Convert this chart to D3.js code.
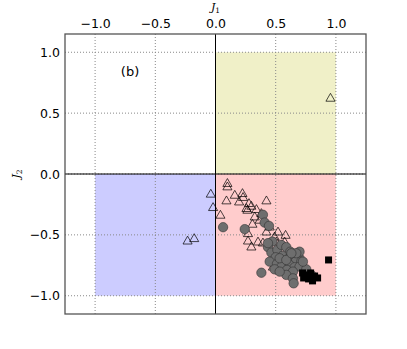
<!DOCTYPE html>
<html><head><meta charset="utf-8">
<script src="https://cdn.jsdelivr.net/npm/d3@7"></script>
<style>body{margin:0;background:#fff}svg{display:block}</style>
</head><body>
<svg id="c" width="407" height="349"></svg>
<script>
const xTicks = [-1.0, -0.5, 0.0, 0.5, 1.0];
const yTicks = [-1.0, -0.5, 0.0, 0.5, 1.0];
const regionsX0 = [0, -1, 0];
const regionsY0 = [0, -1, -1];
const regionsColor = ["#f0f0c8", "#ccccff", "#ffcccc"];
const triX = [0.099,0.099,-0.039,-0.020,0.160,0.224,0.091,0.196,0.229,0.278,0.298,0.257,0.265,0.340,0.423,0.041,0.381,0.326,0.367,0.307,0.450,0.423,0.519,0.582,0.270,0.491,0.270,0.353,0.298,0.574,0.505,0.547,0.477,-0.232,-0.177,0.955,0.394];
const triY = [-0.074,-0.102,-0.162,-0.272,-0.171,-0.157,-0.217,-0.226,-0.189,-0.239,-0.261,-0.280,-0.294,-0.288,-0.217,-0.335,-0.321,-0.349,-0.376,-0.409,-0.432,-0.473,-0.473,-0.500,-0.486,-0.514,-0.547,-0.555,-0.596,-0.555,-0.555,-0.582,-0.761,-0.547,-0.527,0.626,-0.563];
const cirX = [0.063,0.243,0.394,0.408,0.444,0.472,0.436,0.464,0.514,0.547,0.588,0.621,0.555,0.500,0.450,0.510,0.547,0.601,0.657,0.698,0.665,0.712,0.616,0.657,0.698,0.593,0.643,0.588,0.643,0.649,0.381,0.491,0.533,0.698,0.754,0.795,0.671,0.726,0.436,0.533,0.588,0.630];
const cirY = [-0.437,-0.453,-0.335,-0.399,-0.426,-0.555,-0.601,-0.646,-0.624,-0.582,-0.601,-0.638,-0.673,-0.684,-0.720,-0.739,-0.761,-0.700,-0.665,-0.692,-0.720,-0.720,-0.747,-0.766,-0.761,-0.788,-0.802,-0.829,-0.857,-0.898,-0.811,-0.783,-0.802,-0.638,-0.783,-0.829,-0.651,-0.720,-0.568,-0.692,-0.706,-0.651];
const sqX = [0.723,0.756,0.790,0.823,0.848,0.773,0.806,0.732,0.798,0.939];
const sqY = [-0.813,-0.829,-0.813,-0.838,-0.854,-0.862,-0.878,-0.854,-0.846,-0.706];

const svg = d3.select("#c");
const L=65, R=366, T=34, B=314;
const x = d3.scaleLinear().domain([-1.25,1.25]).range([L,R]);
const y = d3.scaleLinear().domain([-1.15,1.15]).range([B,T]);
const fmt = d => d3.format(".1f")(d).replace("-", "\u2212");

svg.append("defs").append("clipPath").attr("id","clp").append("rect")
  .attr("x",L).attr("y",T).attr("width",R-L).attr("height",B-T);
const g = svg.append("g").attr("clip-path","url(#clp)");

// regions
g.selectAll("rect.reg").data(regionsX0.map((d,i)=>i)).enter().append("rect")
  .attr("x",i=>x(regionsX0[i])).attr("y",i=>y(regionsY0[i]+1))
  .attr("width",i=>x(regionsX0[i]+1)-x(regionsX0[i]))
  .attr("height",i=>y(regionsY0[i])-y(regionsY0[i]+1))
  .attr("fill",i=>regionsColor[i]);

// grid
g.selectAll("line.gx").data(xTicks).enter().append("line")
  .attr("x1",d=>x(d)).attr("x2",d=>x(d)).attr("y1",T).attr("y2",B)
  .attr("stroke","#888").attr("stroke-width",1).attr("stroke-dasharray","1,2");
g.selectAll("line.gy").data(yTicks).enter().append("line")
  .attr("y1",d=>y(d)).attr("y2",d=>y(d)).attr("x1",L).attr("x2",R)
  .attr("stroke","#888").attr("stroke-width",1).attr("stroke-dasharray","1,2");

// zero lines
g.append("line").attr("x1",x(0)).attr("x2",x(0)).attr("y1",T).attr("y2",B).attr("stroke","#000").attr("stroke-width",1);
g.append("line").attr("y1",y(0)).attr("y2",y(0)).attr("x1",L).attr("x2",R).attr("stroke","#000").attr("stroke-width",1);

// triangles
const tri = d3.symbol().type(d3.symbolTriangle).size(36);
g.selectAll("path.tri").data(triX.map((d,i)=>i)).enter().append("path")
  .attr("d",tri).attr("transform",i=>`translate(${x(triX[i])},${y(triY[i])+0.8})`)
  .attr("fill","none").attr("stroke","#000").attr("stroke-width",0.7);

// circles
g.selectAll("circle.c").data(cirX.map((d,i)=>i)).enter().append("circle")
  .attr("cx",i=>x(cirX[i])).attr("cy",i=>y(cirY[i])).attr("r",4.7)
  .attr("fill","#6e6e6e").attr("stroke","#333").attr("stroke-width",0.6);

// squares
g.selectAll("rect.sq").data(sqX.map((d,i)=>i)).enter().append("rect")
  .attr("x",i=>x(sqX[i])-3.5).attr("y",i=>y(sqY[i])-3.5).attr("width",7).attr("height",7)
  .attr("fill","#000");

// frame
svg.append("rect").attr("x",L).attr("y",T).attr("width",R-L).attr("height",B-T)
  .attr("fill","none").attr("stroke","#555").attr("stroke-width",1.3);

// axes
const xa = svg.append("g").attr("transform",`translate(0,${T})`)
  .call(d3.axisTop(x).tickValues(xTicks).tickFormat(fmt).tickSize(0).tickPadding(6));
const ya = svg.append("g").attr("transform",`translate(${L},0)`)
  .call(d3.axisLeft(y).tickValues(yTicks).tickFormat(fmt).tickSize(0).tickPadding(5));
[xa,ya].forEach(a=>{a.select(".domain").remove();
  a.selectAll("text").attr("font-family","DejaVu Sans").attr("font-size",12.5).attr("fill","#000");});

// axis labels
const xl = svg.append("text").attr("x",x(0)).attr("y",11).attr("text-anchor","middle")
  .attr("font-family","DejaVu Serif").attr("font-size",11);
xl.append("tspan").attr("font-style","italic").text("J");
xl.append("tspan").attr("font-size",7.5).attr("dy",2).text("1");
const yl = svg.append("text").attr("transform",`translate(20,${y(0)}) rotate(-90)`).attr("text-anchor","middle")
  .attr("font-family","DejaVu Serif").attr("font-size",11);
yl.append("tspan").attr("font-style","italic").text("J");
yl.append("tspan").attr("font-size",7.5).attr("dy",2).text("2");

svg.append("text").attr("x",x(-0.71)).attr("y",y(0.84)+4.5).attr("text-anchor","middle")
  .attr("font-family","DejaVu Sans").attr("font-size",13).text("(b)");
</script>
</body></html>
